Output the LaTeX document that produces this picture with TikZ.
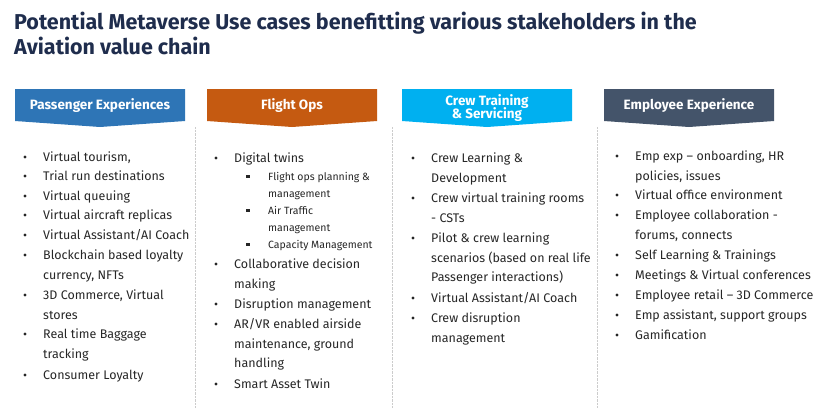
\documentclass[tikz,border=0pt]{standalone}
\usepackage{fontspec}
\setmainfont{Fira Sans}
\usetikzlibrary{positioning}
\definecolor{titleblue}{HTML}{1F2D4D}
\definecolor{paxblue}{HTML}{2E75B6}
\definecolor{opsorange}{HTML}{C55A11}
\definecolor{crewcyan}{HTML}{00B0F0}
\definecolor{empslate}{HTML}{44546A}
\definecolor{itemgray}{HTML}{262626}
\tikzset{
  banner/.style={draw=none},
  bannertext/.style={text=white, font=\bfseries\fontsize{13.5}{15}\selectfont, align=center},
  item/.style={anchor=north west, inner sep=0pt, text=itemgray, font=\fontsize{12.5}{19.8}\selectfont, align=left},
  subitem/.style={anchor=north west, inner sep=0pt, text=itemgray, font=\fontsize{10.5}{17}\selectfont, align=left},
  sep/.style={draw=gray!40, densely dotted}
}
% bullet + text
\newcommand{\itm}[4]{%
  \node[item] (#1) at (#2+18,#3-13.86) {\strut#4};
  \fill[itemgray] (#2,#3-4) circle (1.6);}
\newcommand{\subitm}[4]{%
  \node[subitem] (#1) at (#2+20,#3-11.9) {\strut#4};
  \fill[itemgray] (#2-1.6,#3-5.1) rectangle (#2+1.6,#3-1.9);}
\newcommand{\banner}[5]{%
  \fill[#2] (#3,89) -- (#3+170,89) -- (#3+170,121) -- (#3+85,127) -- (#3,121) -- cycle;
  \node[bannertext] (#1) at (#3+85,#4) {#5};}
\begin{document}
\begin{tikzpicture}[x=1pt,y=-1pt]
  \useasboundingbox (0,0) rectangle (832,408);
  \node[anchor=north west, inner sep=0pt, text=titleblue, font=\bfseries\fontsize{21.5}{23.5}\selectfont, align=left] (title) at (14,11.5)
    {\strut Potential Metaverse Use cases benefitting various stakeholders in the\\Aviation value chain};

  \banner{pax}{paxblue}{15}{106}{Passenger Experiences}
  \banner{ops}{opsorange}{207}{106}{Flight Ops}
  \banner{crew}{crewcyan}{402}{108}{Crew Training\\[-2pt]\& Servicing}
  \banner{emp}{empslate}{604}{106}{Employee Experience}

  \foreach \x in {195,392,597}
    \draw[sep] (\x,127) -- (\x,408);

  % Passenger Experiences
  \itm{p1}{25}{161}{Virtual tourism,}
  \itm{p2}{25}{180}{Trial run destinations}
  \itm{p3}{25}{200}{Virtual queuing}
  \itm{p4}{25}{219}{Virtual aircraft replicas}
  \itm{p5}{25}{239}{Virtual Assistant/AI Coach}
  \itm{p6}{25}{259}{Blockchain based loyalty\\currency, NFTs}
  \itm{p7}{25}{299}{3D Commerce, Virtual\\stores}
  \itm{p8}{25}{338}{Real time Baggage\\tracking}
  \itm{p9}{25}{379}{Consumer Loyalty}

  % Flight Ops
  \itm{o1}{216}{162}{Digital twins}
  \subitm{o2}{248}{180}{Flight ops planning \&\\management}
  \subitm{o3}{248}{214}{Air Traffic\\management}
  \subitm{o4}{248}{248}{Capacity Management}
  \itm{o5}{216}{268}{Collaborative decision\\making}
  \itm{o6}{216}{308}{Disruption management}
  \itm{o7}{216}{328}{AR/VR enabled airside\\maintenance, ground\\handling}
  \itm{o8}{216}{388}{Smart Asset Twin}

  % Crew Training & Servicing
  \itm{c1}{413}{162}{Crew Learning \&\\Development}
  \itm{c2}{413}{202}{Crew virtual training rooms\\- CSTs}
  \itm{c3}{413}{242}{Pilot \& crew learning\\scenarios (based on real life\\Passenger interactions)}
  \itm{c4}{413}{302}{Virtual Assistant/AI Coach}
  \itm{c5}{413}{322}{Crew disruption\\management}

  % Employee Experience
  \itm{e1}{617}{160}{Emp exp -- onboarding, HR\\policies, issues}
  \itm{e2}{617}{199}{Virtual office environment}
  \itm{e3}{617}{219}{Employee collaboration -\\forums, connects}
  \itm{e4}{617}{259}{Self Learning \& Trainings}
  \itm{e5}{617}{279}{Meetings \& Virtual conferences}
  \itm{e6}{617}{299}{Employee retail -- 3D Commerce}
  \itm{e7}{617}{319}{Emp assistant, support groups}
  \itm{e8}{617}{339}{Gamification}
\end{tikzpicture}
\end{document}
